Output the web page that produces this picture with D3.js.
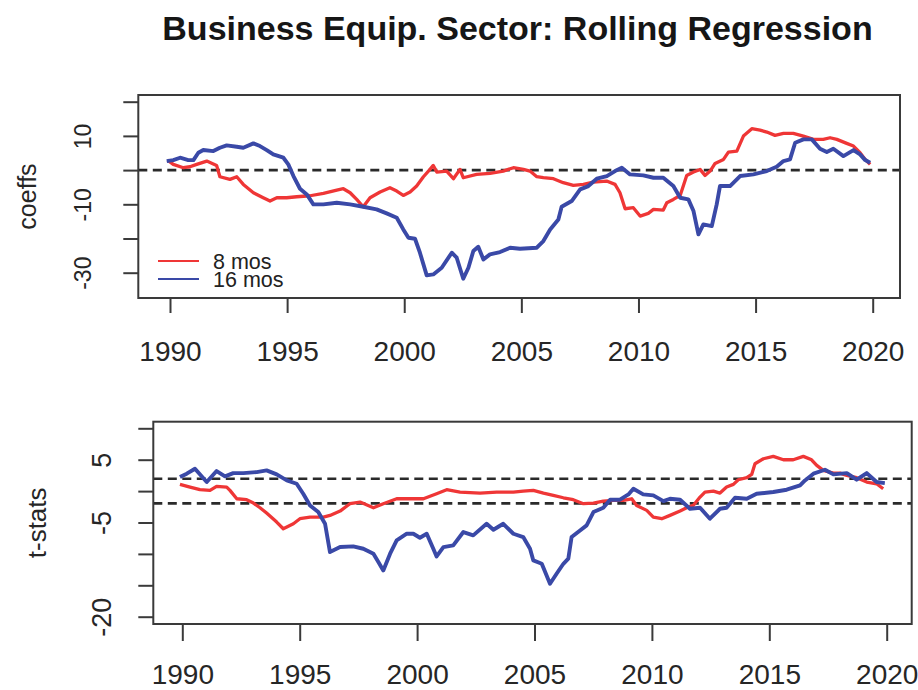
<!DOCTYPE html>
<html>
<head>
<meta charset="utf-8">
<script src="https://cdn.jsdelivr.net/npm/d3@7"></script>
<style>
  html, body { margin: 0; padding: 0; background: #fff; }
  svg { display: block; }
  text { font-family: "Liberation Sans", Arial, Helvetica, sans-serif; fill: #222; }
</style>
</head>
<body>
<svg id="chart" width="918" height="690"></svg>
<script>
// Rolling regression coefficients (8- and 16-month windows), [year, value]
const coef8 = [
  [1989.9, 2.9], [1990.14, 1.67], [1990.57, 0.69], [1990.85, 0.98], [1991.14, 1.67], [1991.57, 2.64],
  [1991.99, 1.37], [1992.13, -1.94], [1992.56, -2.72], [1992.85, -1.94], [1993.13, -4.18], [1993.56, -6.62],
  [1993.98, -8.08], [1994.27, -9.05], [1994.56, -8.08], [1994.98, -8.08], [1995.41, -7.79], [1995.98, -7.5],
  [1996.55, -6.81], [1997.12, -5.84], [1997.40, -5.45], [1997.69, -6.62], [1997.97, -8.57], [1998.25, -10.71],
  [1998.54, -8.08], [1998.97, -6.42], [1999.39, -5.16], [1999.68, -6.13], [1999.96, -7.40], [2000.25, -6.42],
  [2000.53, -4.67], [2000.82, -1.94], [2001.10, 0.2], [2001.24, 1.37], [2001.39, -0.58], [2001.81, -0.28],
  [2002.10, -2.52], [2002.38, 0.2], [2002.52, -2.23], [2003.09, -1.26], [2003.66, -0.97], [2004.23, -0.28],
  [2004.66, 0.69], [2005.09, 0.2], [2005.37, -0.28], [2005.66, -1.94], [2005.94, -2.23], [2006.37, -2.52],
  [2006.79, -3.69], [2007.22, -4.47], [2007.65, -4.18], [2008.07, -3.50], [2008.64, -3.21], [2009.00, -4.18],
  [2009.21, -6.62], [2009.43, -11.30], [2009.78, -11.0], [2010.07, -13.44], [2010.42, -12.66], [2010.64, -11.49],
  [2011.06, -11.69], [2011.21, -9.54], [2011.49, -8.57], [2011.78, -7.40], [2012.06, -1.55], [2012.35, -0.58],
  [2012.63, 0.2], [2012.84, -1.55], [2013.06, -0.28], [2013.27, 1.96], [2013.63, 3.13], [2013.84, 5.27],
  [2014.20, 5.56], [2014.48, 9.95], [2014.84, 12.10], [2015.19, 11.70], [2015.48, 11.12], [2015.83, 10.15],
  [2016.19, 10.73], [2016.61, 10.73], [2017.04, 9.95], [2017.47, 8.98], [2017.89, 8.98], [2018.18, 9.46],
  [2018.47, 8.98], [2018.89, 7.81], [2019.18, 7.03], [2019.46, 5.08], [2019.68, 3.13], [2019.89, 1.67]
];
const coef16 = [
  [1989.86, 2.64], [1990.14, 2.93], [1990.43, 3.62], [1990.78, 2.93], [1991.0, 2.93], [1991.21, 5.08],
  [1991.42, 5.86], [1991.85, 5.56], [1992.13, 6.54], [1992.42, 7.22], [1992.85, 6.83], [1993.13, 6.54],
  [1993.56, 7.81], [1993.84, 7.03], [1994.13, 5.86], [1994.41, 4.59], [1994.84, 3.62], [1995.05, 1.67],
  [1995.27, -1.74], [1995.55, -5.45], [1995.84, -7.11], [1996.12, -10.03], [1996.55, -10.03], [1997.12, -9.54],
  [1997.69, -10.03], [1998.25, -10.71], [1998.82, -11.49], [1999.25, -12.66], [1999.68, -13.93], [1999.96, -17.34],
  [2000.18, -19.78], [2000.46, -20.07], [2000.67, -24.16], [2000.96, -30.79], [2001.24, -30.50], [2001.60, -28.55],
  [2002.03, -24.16], [2002.24, -25.62], [2002.52, -31.76], [2002.74, -28.55], [2002.95, -23.67], [2003.16, -22.41],
  [2003.38, -26.11], [2003.66, -24.65], [2004.09, -23.97], [2004.52, -22.70], [2004.94, -22.99], [2005.66, -22.70],
  [2005.94, -20.75], [2006.23, -17.34], [2006.58, -14.42], [2006.72, -10.71], [2007.15, -9.05], [2007.51, -5.64],
  [2007.86, -4.67], [2008.22, -2.52], [2008.65, -1.74], [2009.00, -0.28], [2009.29, 0.69], [2009.64, -1.26],
  [2010.21, -1.55], [2010.64, -2.23], [2011.06, -2.23], [2011.49, -4.67], [2011.78, -8.08], [2012.13, -8.57],
  [2012.35, -11.98], [2012.56, -18.80], [2012.77, -15.88], [2013.13, -16.37], [2013.34, -10.03], [2013.48, -4.67],
  [2013.91, -4.67], [2014.34, -1.74], [2014.91, -1.26], [2015.48, -0.28], [2015.90, 0.98], [2016.19, 2.64],
  [2016.47, 3.13], [2016.69, 8.0], [2017.04, 8.98], [2017.40, 8.98], [2017.75, 6.25], [2018.04, 5.27],
  [2018.32, 6.25], [2018.75, 4.10], [2019.18, 5.86], [2019.46, 4.59], [2019.68, 2.93], [2019.89, 2.15]
];

// t-statistics of the same regressions
const tstat8 = [
  [1989.90, 1.07], [1990.33, 0.64], [1990.75, 0.22], [1991.18, 0.11], [1991.46, 0.75], [1991.89, 0.64],
  [1992.03, 0.11], [1992.32, -1.22], [1992.74, -1.37], [1993.03, -1.91], [1993.31, -2.65], [1993.59, -3.50],
  [1994.02, -4.93], [1994.30, -5.99], [1994.73, -5.20], [1995.01, -4.40], [1995.44, -4.14], [1996.01, -4.14],
  [1996.29, -3.87], [1996.72, -3.18], [1997.14, -2.01], [1997.57, -1.75], [1998.14, -2.65], [1998.56, -2.01],
  [1999.13, -1.22], [1999.70, -1.22], [2000.27, -1.22], [2000.83, -0.42], [2001.26, 0.22], [2001.83, -0.15],
  [2002.68, -0.31], [2003.39, -0.15], [2004.10, -0.15], [2004.52, 0.0], [2004.95, 0.11], [2005.38, -0.31],
  [2005.80, -0.68], [2006.23, -1.06], [2006.65, -1.37], [2007.08, -2.01], [2007.51, -1.91], [2007.93, -1.59],
  [2008.36, -1.48], [2008.78, -1.48], [2009.14, -1.22], [2009.35, -2.28], [2009.78, -3.07], [2010.06, -4.14],
  [2010.42, -4.40], [2010.77, -3.87], [2011.20, -3.18], [2011.48, -2.65], [2011.76, -2.28], [2012.05, -0.95],
  [2012.26, -0.15], [2012.62, 0.0], [2012.90, -0.31], [2013.18, 0.64], [2013.47, 1.07], [2013.68, 1.81],
  [2014.04, 2.13], [2014.25, 2.66], [2014.39, 4.36], [2014.75, 5.15], [2015.17, 5.53], [2015.60, 4.99],
  [2016.02, 4.99], [2016.45, 5.53], [2016.80, 4.99], [2017.02, 4.09], [2017.30, 3.30], [2017.73, 2.87],
  [2018.01, 2.87], [2018.30, 2.50], [2018.72, 2.13], [2019.15, 1.44], [2019.57, 1.17], [2019.85, 0.38]
];
const tstat16 = [
  [1989.90, 2.23], [1990.19, 2.77], [1990.54, 3.56], [1991.04, 1.44], [1991.46, 3.19], [1991.82, 2.34],
  [1992.17, 2.87], [1992.60, 2.87], [1993.17, 3.03], [1993.59, 3.30], [1994.02, 2.66], [1994.45, 1.70],
  [1994.87, 1.17], [1995.15, -0.42], [1995.44, -2.28], [1995.79, -3.34], [1996.08, -5.20], [1996.29, -9.71],
  [1996.72, -8.91], [1997.28, -8.81], [1997.71, -9.18], [1998.14, -9.97], [1998.35, -11.30], [1998.56, -12.63],
  [1998.85, -9.97], [1999.13, -7.85], [1999.56, -6.79], [1999.84, -6.79], [2000.12, -7.43], [2000.41, -6.79],
  [2000.69, -9.18], [2000.83, -10.40], [2001.12, -8.91], [2001.54, -8.65], [2001.97, -6.52], [2002.39, -7.05],
  [2002.96, -5.20], [2003.25, -6.15], [2003.67, -5.20], [2003.81, -5.73], [2004.10, -6.79], [2004.52, -7.32],
  [2004.81, -9.18], [2004.95, -11.04], [2005.31, -11.57], [2005.66, -14.75], [2005.94, -13.16], [2006.23, -11.57],
  [2006.44, -10.77], [2006.58, -7.32], [2006.94, -6.26], [2007.22, -5.46], [2007.51, -3.34], [2007.93, -2.65],
  [2008.22, -1.37], [2008.64, -1.37], [2009.00, -0.53], [2009.21, 0.38], [2009.63, -0.53], [2010.06, -0.68],
  [2010.49, -1.59], [2010.77, -1.22], [2011.20, -1.37], [2011.62, -2.81], [2012.05, -2.65], [2012.47, -4.40],
  [2012.90, -2.81], [2013.18, -2.65], [2013.54, -1.06], [2014.04, -1.22], [2014.46, -0.42], [2015.17, -0.15],
  [2015.74, 0.22], [2016.31, 0.91], [2016.52, 1.70], [2016.88, 2.77], [2017.37, 3.40], [2017.73, 2.66],
  [2018.30, 2.87], [2018.72, 1.81], [2019.15, 2.87], [2019.57, 1.44], [2019.92, 1.28]
];

// Axis ticks and the subset that carries a label
const yearTicks = [1990, 1995, 2000, 2005, 2010, 2015, 2020];
const coefTicks = [-30, -20, -10, 0, 10, 20];
const coefTickLabels = [-30, -10, 10];
const tstatTicks = [-20, -15, -10, -5, 0, 5, 10];
const tstatTickLabels = [-20, -5, 5];
const coefRefLines = [0];
const tstatRefLines = [1.96, -1.96];
const seriesNames = ["8 mos", "16 mos"];
const seriesColors = ["#ef3636", "#3a49a7"];
const titleText = "Business Equip. Sector: Rolling Regression";

const svg = d3.select("#chart");

svg.append("text")
  .attr("x", 517.5).attr("y", 39.5)
  .attr("text-anchor", "middle")
  .attr("font-size", 34).attr("font-weight", "bold")
  .style("fill", "#161616")
  .text(titleText);

function panel(cfg) {
  const { box, xRange, yDomain, yRange, series, yTicks, yLabels, refLines,
          yTitle, yTitleX, yTickX, yTickSize, yTitleSize, xLabelY, xTickLen, legend } = cfg;
  const x = d3.scaleLinear().domain([1990, 2020]).range(xRange);
  const y = d3.scaleLinear().domain(yDomain).range(yRange);
  const g = svg.append("g");

  // clip lines to the plotting box
  const clipId = "clip" + Math.round(box.y0);
  svg.append("clipPath").attr("id", clipId).append("rect")
    .attr("x", box.x0).attr("y", box.y0)
    .attr("width", box.x1 - box.x0).attr("height", box.y1 - box.y0);

  // horizontal reference lines
  g.selectAll("line.ref").data(refLines).join("line")
    .attr("class", "ref")
    .attr("x1", box.x0).attr("x2", box.x1)
    .attr("y1", d => y(d)).attr("y2", d => y(d))
    .attr("stroke", "#2a2a2a").attr("stroke-width", 2.6)
    .attr("stroke-dasharray", "9,5.5");

  const line = d3.line().x(d => x(d[0])).y(d => y(d[1]));
  const lg = g.append("g").attr("clip-path", `url(#${clipId})`);
  series.forEach((s, i) => {
    lg.append("path").datum(s)
      .attr("d", line)
      .attr("fill", "none")
      .attr("stroke", seriesColors[i])
      .attr("stroke-width", i === 0 ? 3.3 : 3.9)
      .attr("stroke-linejoin", "round");
  });

  // frame
  g.append("rect")
    .attr("x", box.x0).attr("y", box.y0)
    .attr("width", box.x1 - box.x0).attr("height", box.y1 - box.y0)
    .attr("fill", "none").attr("stroke", "#3a3a3a").attr("stroke-width", 2);

  // x axis
  const xa = g.append("g").attr("transform", `translate(0,${box.y1})`)
    .call(d3.axisBottom(x).tickValues(yearTicks).tickSize(xTickLen).tickSizeOuter(0).tickFormat(d3.format("d")));
  xa.select(".domain").remove();
  xa.selectAll(".tick line").attr("stroke", "#3a3a3a").attr("stroke-width", 2);
  xa.selectAll(".tick text")
    .attr("y", xLabelY).attr("dy", null)
    .attr("font-size", 28).style("fill", "#262626");

  // y axis
  const ya = g.append("g").attr("transform", `translate(${box.x0},0)`)
    .call(d3.axisLeft(y).tickValues(yTicks).tickSize(15).tickSizeOuter(0)
      .tickFormat(d => yLabels.includes(d) ? String(d) : ""));
  ya.select(".domain").remove();
  ya.selectAll(".tick line").attr("stroke", "#3a3a3a").attr("stroke-width", 2);
  ya.selectAll(".tick text")
    .attr("x", null).attr("dy", null)
    .attr("text-anchor", "middle")
    .attr("dominant-baseline", "central")
    .attr("transform", `translate(${yTickX - box.x0},0) rotate(-90)`)
    .attr("font-size", yTickSize).style("fill", "#262626");

  // y title
  g.append("text")
    .attr("transform", `translate(${yTitleX},${(box.y0 + box.y1) / 2}) rotate(-90)`)
    .attr("text-anchor", "middle").attr("dominant-baseline", "central")
    .attr("font-size", yTitleSize).style("fill", "#262626")
    .text(yTitle);

  if (legend) {
    const lgd = g.append("g");
    seriesNames.forEach((name, i) => {
      const yy = legend.y + i * legend.step;
      lgd.append("line")
        .attr("x1", legend.x).attr("x2", legend.x + 41)
        .attr("y1", yy).attr("y2", yy)
        .attr("stroke", seriesColors[i]).attr("stroke-width", 2.2);
      lgd.append("text")
        .attr("x", legend.x + 55).attr("y", yy + 7.5)
        .attr("font-size", 21.5).style("fill", "#222")
        .text(name);
    });
  }
}

panel({
  box: { x0: 138.3, x1: 900, y0: 95, y1: 298 },
  xRange: [170, 872.7],
  yDomain: [-30, 20], yRange: [272.7, 101.7],
  series: [coef8, coef16],
  yTicks: coefTicks, yLabels: coefTickLabels, refLines: coefRefLines,
  yTitle: "coeffs", yTitleX: 27, yTickX: 83, yTickSize: 23, yTitleSize: 25,
  xLabelY: 63, xTickLen: 15,
  legend: { x: 158, y: 261, step: 18 }
});

panel({
  box: { x0: 153.3, x1: 911.7, y0: 421.7, y1: 624 },
  xRange: [182.3, 886.7],
  yDomain: [-20, 10], yRange: [616.7, 428.3],
  series: [tstat8, tstat16],
  yTicks: tstatTicks, yLabels: tstatTickLabels, refLines: tstatRefLines,
  yTitle: "t-stats", yTitleX: 37, yTickX: 102, yTickSize: 27, yTitleSize: 26,
  xLabelY: 60, xTickLen: 17,
  legend: null
});
</script>
</body>
</html>
